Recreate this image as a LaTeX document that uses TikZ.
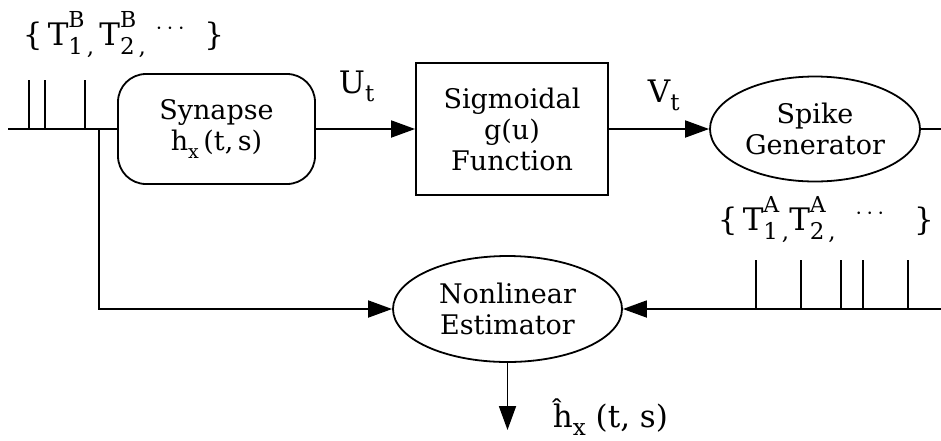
\documentclass[tikz,border=0pt]{standalone}
\usepackage{fontspec}
\setmainfont{DejaVu Serif}
\usetikzlibrary{arrows.meta,shapes.geometric}
% subscript / superscript built from text of a given size
\newcommand{\nsub}[1]{\raisebox{-0.28em}{\fontsize{19}{19}\selectfont #1}}
\newcommand{\lsub}[1]{\raisebox{-0.28em}{\fontsize{23}{23}\selectfont #1}}
\newcommand{\lss}[2]{\makebox[0pt][l]{\raisebox{0.55em}{\fontsize{22}{22}\selectfont #1}}\raisebox{-0.3em}{\fontsize{23}{23}\selectfont #2}}
\begin{document}
\begin{tikzpicture}[x=1pt,y=-1pt, line width=1.8pt,
  arr/.style={-{Triangle[length=24pt,width=17pt]}},
  nodefont/.style={font=\fontsize{27}{31}\selectfont, align=center, inner sep=0pt},
  lab/.style={font=\fontsize{31}{36}\selectfont, inner sep=0pt, anchor=base west},
  ]
\useasboundingbox (0,0) rectangle (941,440);
% blocks
\node[draw, rounded corners=28pt, minimum width=197pt, minimum height=110pt, nodefont] (syn) at (216.5,129) {Synapse\\h\nsub{x}\,(t,\,s)};
\node[draw, minimum width=192pt, minimum height=132pt, nodefont] (sig) at (512,129) {Sigmoidal\\g(u)\\Function};
\node[draw, ellipse, minimum width=210pt, minimum height=105pt, nodefont] (spk) at (815,129) {Spike\\Generator};
\node[draw, ellipse, minimum width=229pt, minimum height=106pt, nodefont] (est) at (507.5,309) {Nonlinear\\Estimator};
% coordinates
\coordinate (inL) at (8,129);
\coordinate (br) at (99,129);
\coordinate (outR) at (941,129);
\coordinate (inR) at (941,309);
\coordinate (outD) at (507.5,430);
% connectors
\draw (inL) -- (syn.west);
\draw[arr] (br) |- (est.west);
\draw[arr] (syn.east) -- (sig.west);
\draw[arr] (sig.east) -- (spk.west);
\draw (spk.east) -- (outR);
\draw[arr] (inR) -- (est.east);
\draw[arr] (est.south) -- (outD);
% spikes
\foreach \x in {29,45,85} \draw (\x,80) -- (\x,129);
\foreach \x in {756,801,841,863,908} \draw (\x,260) -- (\x,309);
% labels
\node[lab] (ut) at (338,93) {U\lsub{t}};
\node[lab] (vt) at (647,102) {V\lsub{t}};
\node[lab] (tb) at (22,45) {\{\,T\lss{B}{1\,,}\,T\lss{B}{2\,,}\ \raisebox{0.35em}{$\cdots$}\ \ \}};
\node[lab] (ta) at (717,230) {\{\,T\lss{A}{1\,,}T\lss{A}{2\,,}\ \ \raisebox{0.35em}{$\cdots$}\ \ \ \}};
\node[lab] (hx) at (552,427) {ĥ\lsub{x}\ (t,\ s)};
\end{tikzpicture}
\end{document}
